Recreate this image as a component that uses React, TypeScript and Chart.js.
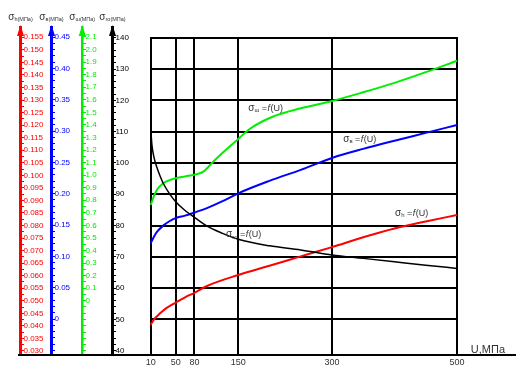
import React, { useEffect, useRef } from "react";
import { Chart, registerables } from "chart.js";

Chart.register(...registerables);

const FONT = "Arial, 'Liberation Sans', Helvetica, sans-serif";

// ---------- X axis ----------
const X_TICKS = [10, 50, 80, 150, 300, 500];
const X_MIN = -51.9;
const X_MAX = 592.8;
const X_TITLE = "U,МПа";

// ---------- σh = f(U)  (red axis) ----------
const U_H = [10, 15, 25, 35, 50, 65, 80, 100, 150, 200, 250, 300, 350, 400, 450, 500];
const SIGMA_H = [0.0404, 0.0425, 0.045, 0.0471, 0.0493, 0.0514, 0.0532, 0.0559, 0.0603, 0.064, 0.0677, 0.0714, 0.0753, 0.0788, 0.0816, 0.0842];

// ---------- σв = f(U)  (blue axis) ----------
const U_B = [10, 15, 20, 30, 40, 50, 65, 80, 100, 125, 150, 200, 250, 300, 350, 400, 450, 500];
const SIGMA_B = [0.121, 0.131, 0.139, 0.149, 0.156, 0.161, 0.165, 0.17, 0.177, 0.188, 0.2006, 0.2205, 0.238, 0.257, 0.2715, 0.2845, 0.297, 0.3096];

// ---------- σш = f(U)  (green axis) ----------
const U_W = [10, 15, 20, 30, 40, 50, 65, 80, 95, 110, 130, 145, 170, 205, 250, 300, 350, 400, 450, 500];
const SIGMA_W = [0.762, 0.83, 0.883, 0.935, 0.96, 0.975, 0.99, 1.003, 1.03, 1.107, 1.2, 1.266, 1.373, 1.465, 1.532, 1.59, 1.66, 1.735, 1.82, 1.911];

// ---------- σro = f(U)  (black axis) ----------
const U_R = [10, 12, 15, 20, 25, 30, 40, 50, 65, 80, 100, 125, 150, 200, 250, 300, 350, 400, 450, 500];
const SIGMA_R = [111, 105.7, 102, 98.5, 95.8, 93.5, 90.2, 87.6, 84.8, 82.6, 79.8, 77.5, 75.6, 73.5, 72.2, 70.6, 69.5, 68.4, 67.3, 66.3];

// ---------- Tick labels ----------
const RED_LABELS = ["0.030", "0.035", "0.040", "0.045", "0.050", "0.055", "0.060", "0.065", "0.070", "0.075", "0.080", "0.085", "0.090", "0.095", "0.100", "0.105", "0.110", "0.115", "0.120", "0.125", "0.130", "0.135", "0.140", "0.145", "0.150", "0.155"];
const BLUE_LABELS = ["0", "0.05", "0.10", "0.15", "0.20", "0.25", "0.30", "0.35", "0.40", "0.45"];
const GREEN_LABELS = ["0", "0.1", "0.2", "0.3", "0.4", "0.5", "0.6", "0.7", "0.8", "0.9", "1.0", "1.1", "1.2", "1.3", "1.4", "1.5", "1.6", "1.7", "1.8", "1.9", "2.0", "2.1"];
const BLACK_LABELS = ["40", "50", "60", "70", "80", "90", "100", "110", "120", "130", "140"];

// grid lines of the plot box (values on the black axis)
const GRID_VALUES = [50, 60, 70, 80, 90, 100, 110, 120, 130, 140];

// curve annotations (U on x axis, value on black axis)
const CURVE_NOTES = [
  { sub: "ш", u: 166, v: 117.8 },
  { sub: "в", u: 318, v: 107.9 },
  { sub: "ro", u: 130.5, v: 77.3 },
  { sub: "h", u: 401, v: 84.2 },
];

type AxisDef = {
  id: string;
  title: string;
  color: string;
  min: number;
  max: number;
  minorFrom: number;
  minorTo: number;
  minorStep: number;
  labels: string[];
  weight: number;
  width: number;
  borderWidth: number;
};

const AXES: AxisDef[] = [
  { id: "yRed", title: "h", color: "#ff0000", min: 0.028406, max: 0.1591, minorFrom: 0.03, minorTo: 0.155, minorStep: 0.0025, labels: RED_LABELS, weight: 4, width: 20, borderWidth: 3 },
  { id: "yBlue", title: "в", color: "#0000ff", min: -0.05744, max: 0.46596, minorFrom: -0.05, minorTo: 0.45, minorStep: 0.01, labels: BLUE_LABELS, weight: 3, width: 31, borderWidth: 3 },
  { id: "yGreen", title: "ш", color: "#00ee00", min: -0.4324, max: 2.1796, minorFrom: -0.4, minorTo: 2.1, minorStep: 0.05, labels: GREEN_LABELS, weight: 2, width: 31, borderWidth: 2.5 },
  { id: "yBlack", title: "ro", color: "#000000", min: 38.63, max: 143.42, minorFrom: 40, minorTo: 140, minorStep: 2, labels: BLACK_LABELS, weight: 1, width: 30, borderWidth: 3 },
];

function tickValues(a: AxisDef): number[] {
  const n = Math.round((a.minorTo - a.minorFrom) / a.minorStep);
  const out: number[] = [];
  for (let i = 0; i <= n; i++) out.push(Math.round((a.minorFrom + i * a.minorStep) * 1e6) / 1e6);
  return out;
}

function yAxis(a: AxisDef) {
  const vals = tickValues(a);
  const labelVals = a.labels.map((l) => parseFloat(l));
  return {
    type: "linear",
    position: "left",
    weight: a.weight,
    min: a.min,
    max: a.max,
    afterFit: (s: any) => {
      s.width = a.width;
    },
    afterBuildTicks: (s: any) => {
      s.ticks = vals.map((v) => ({ value: v }));
    },
    ticks: {
      mirror: true,
      padding: 3.5,
      autoSkip: false,
      color: a.color,
      font: { size: 8, family: FONT },
      callback: (v: any) => {
        const i = labelVals.findIndex((lv) => Math.abs(lv - Number(v)) < 1e-7);
        return i >= 0 ? a.labels[i] : "";
      },
    },
    grid: { drawOnChartArea: false, drawTicks: true, tickLength: -4, color: a.color, lineWidth: 1 },
    border: { display: true, color: a.color, width: a.borderWidth },
  };
}

function drawSigma(ctx: CanvasRenderingContext2D, x: number, yMid: number, sub: string, tail: boolean, big: number, small: number) {
  const base = yMid + big * 0.35;
  let cx = x;
  ctx.textBaseline = "alphabetic";
  ctx.textAlign = "left";
  ctx.font = `${big}px ${FONT}`;
  ctx.fillText("σ", cx, base);
  cx += ctx.measureText("σ").width;
  ctx.font = `${small}px ${FONT}`;
  ctx.fillText(sub, cx, base + 1.5);
  cx += ctx.measureText(sub).width;
  if (tail) {
    ctx.font = `${big - 1}px ${FONT}`;
    ctx.fillText(" =", cx, base);
    cx += ctx.measureText(" =").width + 0.5;
    ctx.font = `italic ${big - 1}px ${FONT}`;
    ctx.fillText("f", cx, base);
    cx += ctx.measureText("f").width + 0.5;
    ctx.font = `${big - 1}px ${FONT}`;
    ctx.fillText("(U)", cx, base);
  }
}

const overlay = {
  id: "overlay",
  beforeDatasetsDraw(chart: any) {
    const { ctx, chartArea } = chart;
    const xs = chart.scales.x;
    const yb = chart.scales.yBlack;
    const yr = chart.scales.yRed;
    const top = Math.round(yb.getPixelForValue(GRID_VALUES[GRID_VALUES.length - 1]));
    const bottom = chartArea.bottom;
    const left = Math.round(xs.getPixelForValue(X_TICKS[0]));
    const right = Math.round(xs.getPixelForValue(X_TICKS[X_TICKS.length - 1]));
    ctx.save();
    ctx.strokeStyle = "#000";
    ctx.lineWidth = 2;
    ctx.beginPath();
    for (const u of X_TICKS) {
      const px = Math.round(xs.getPixelForValue(u));
      ctx.moveTo(px, top - 1);
      ctx.lineTo(px, bottom);
    }
    for (const v of GRID_VALUES) {
      const py = Math.round(yb.getPixelForValue(v));
      ctx.moveTo(left - 1, py);
      ctx.lineTo(right + 1, py);
    }
    ctx.moveTo(yr.right - 2, bottom);
    ctx.lineTo(chartArea.left + 1, bottom);
    ctx.stroke();
    ctx.restore();
  },
  afterDraw(chart: any) {
    const { ctx, chartArea } = chart;
    const xs = chart.scales.x;
    const yb = chart.scales.yBlack;
    ctx.save();
    // arrows + titles of the value axes
    for (const a of AXES) {
      const s = chart.scales[a.id];
      const half = a.borderWidth / 2;
      const x = Math.round(s.right - half) + half;
      ctx.fillStyle = a.color;
      ctx.beginPath();
      ctx.moveTo(x, chartArea.top - 2);
      ctx.lineTo(x - 3.5, chartArea.top + 9);
      ctx.lineTo(x + 3.5, chartArea.top + 9);
      ctx.closePath();
      ctx.fill();
      // title "σx(МПа)"
      ctx.fillStyle = "#333";
      ctx.font = `10px ${FONT}`;
      const w1 = ctx.measureText("σ").width;
      ctx.font = `5.5px ${FONT}`;
      const subText = a.title + "(МПа)";
      const w2 = ctx.measureText(subText).width;
      const startX = x - (w1 + w2) / 2;
      ctx.textBaseline = "alphabetic";
      ctx.textAlign = "left";
      ctx.font = `10px ${FONT}`;
      ctx.fillText("σ", startX, chartArea.top - 7);
      ctx.font = `5.5px ${FONT}`;
      ctx.fillText(subText, startX + w1, chartArea.top - 6);
    }
    // curve annotations
    ctx.fillStyle = "#333";
    for (const n of CURVE_NOTES) {
      drawSigma(ctx, xs.getPixelForValue(n.u), yb.getPixelForValue(n.v), n.sub, true, 10, 6);
    }
    // x axis title
    ctx.font = `11px ${FONT}`;
    ctx.textAlign = "right";
    ctx.textBaseline = "alphabetic";
    ctx.fillStyle = "#333";
    ctx.fillText(X_TITLE, chartArea.right - 10, chartArea.bottom - 2);
    ctx.restore();
  },
};

export default function App() {
  const ref = useRef<HTMLCanvasElement>(null);
  useEffect(() => {
    const canvas = ref.current;
    if (!canvas) return;
    const mk = (u: number[], s: number[]) => u.map((x, i) => ({ x, y: s[i] }));
    const line = (label: string, data: any[], axis: string, color: string, width: number) => ({
      label,
      data,
      yAxisID: axis,
      borderColor: color,
      backgroundColor: color,
      borderWidth: width,
      pointRadius: 0,
      fill: false,
      cubicInterpolationMode: "monotone",
    });
    const scales: any = {
      x: {
        type: "linear",
        position: "bottom",
        min: X_MIN,
        max: X_MAX,
        afterFit: (s: any) => {
          s.height = 20;
        },
        afterBuildTicks: (s: any) => {
          s.ticks = X_TICKS.map((v) => ({ value: v }));
        },
        grid: { display: false, drawTicks: false },
        border: { display: true, color: "#000", width: 2 },
        ticks: {
          autoSkip: false,
          maxRotation: 0,
          padding: 2,
          color: "#333",
          font: { size: 9, family: FONT },
          callback: (v: any) => String(v),
        },
      },
    };
    for (const a of AXES) scales[a.id] = yAxis(a);

    const chart = new Chart(canvas, {
      type: "line",
      data: {
        datasets: [
          line("σro", mk(U_R, SIGMA_R), "yBlack", "#000000", 1.5),
          line("σh", mk(U_H, SIGMA_H), "yRed", "#ff0000", 2),
          line("σв", mk(U_B, SIGMA_B), "yBlue", "#0000ff", 2),
          line("σш", mk(U_W, SIGMA_W), "yGreen", "#00ee00", 2),
        ] as any,
      },
      options: {
        responsive: false,
        animation: false,
        devicePixelRatio: 1,
        layout: { padding: { left: 0, top: 27, right: 7, bottom: 0 } },
        plugins: { legend: { display: false }, tooltip: { enabled: false }, title: { display: false } },
        scales,
      } as any,
      plugins: [overlay],
    });
    return () => chart.destroy();
  }, []);
  return (
    <div style={{ position: "absolute", left: 0, top: 0, width: 522, height: 375, background: "#fff" }}>
      <canvas ref={ref} width={522} height={375} style={{ display: "block" }} />
    </div>
  );
}
